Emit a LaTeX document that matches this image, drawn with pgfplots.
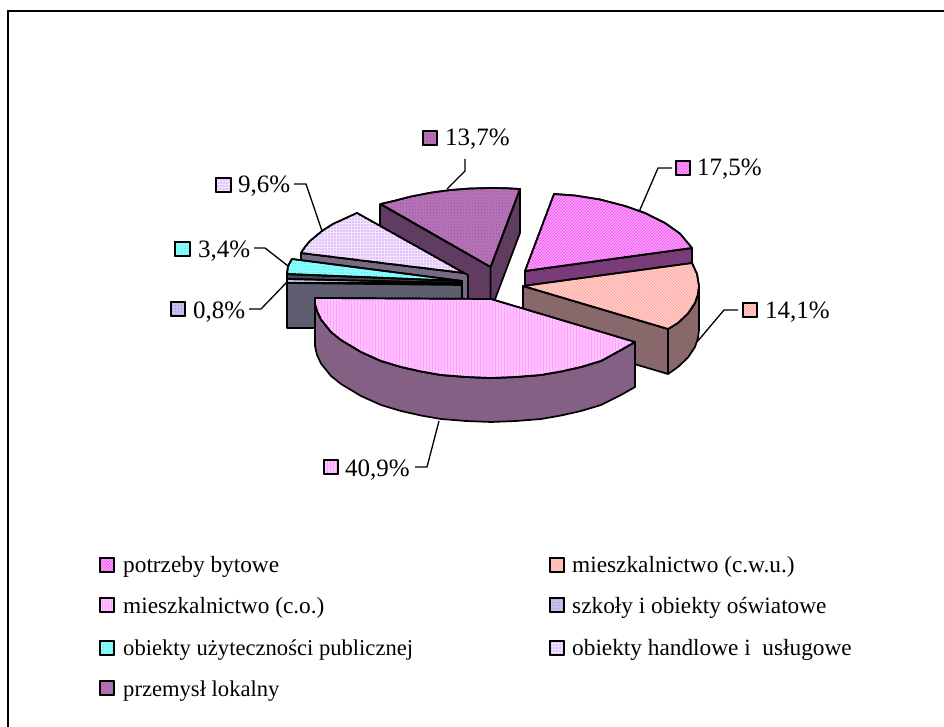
\documentclass[border=0pt]{standalone}
\usepackage{pgfplots}
\pgfplotsset{compat=1.18}
\usepackage{fontspec}
\setmainfont{Liberation Serif}
\usetikzlibrary{patterns}
\definecolor{mgT}{HTML}{FFA0FF}\definecolor{mgL}{HTML}{E850E8}\definecolor{mgS}{HTML}{7A3C78}
\definecolor{saT}{HTML}{FFD0C8}\definecolor{saL}{HTML}{FFA0A0}\definecolor{saS}{HTML}{88686A}
\definecolor{piT}{HTML}{FFC4FF}\definecolor{piL}{HTML}{FFA0FF}\definecolor{piS}{HTML}{846084}
\definecolor{slT}{HTML}{C8C8F0}\definecolor{slL}{HTML}{8888C8}\definecolor{slS}{HTML}{5E5E70}
\definecolor{cyT}{HTML}{90FFFF}\definecolor{cyL}{HTML}{40E0E8}\definecolor{cyS}{HTML}{404848}
\definecolor{laT}{HTML}{E2C4F8}\definecolor{laL}{HTML}{F2E4FF}\definecolor{laS}{HTML}{786A80}
\definecolor{puT}{HTML}{B874B8}\definecolor{puL}{HTML}{985498}\definecolor{puS}{HTML}{603C60}
\pgfplotsset{
 face/.style n args={3}{draw=black,line width=1.7pt,fill=#1,line join=round,
   postaction={pattern=#3,pattern color=#2}},
 mg/.style={face={mgT}{mgL}{north east lines}},
 sa/.style={face={saT}{saL}{north west lines}},
 pi/.style={face={piT}{piL}{vertical lines}},
 sl/.style={face={slT}{slL}{crosshatch dots}},
 cy/.style={face={cyT}{cyL}{crosshatch dots}},
 la/.style={face={laT}{laL}{grid}},
 pu/.style={face={puT}{puL}{crosshatch dots}},
 side/.style={draw=black,line width=1.7pt,fill=#1,line join=round},
 leader/.style={draw=black,line width=1.3pt,no marks},
 sw/.style={line width=1.5pt},
}
\newcommand{\txt}[3]{\node[anchor=west,inner sep=0pt,font=\fontsize{#3}{#3}\selectfont] at (axis cs:#1) {\strut #2};}
\begin{document}
\begin{tikzpicture}
\path[use as bounding box] (0,0) rectangle (944pt,727pt);
\begin{axis}[at={(0,0)},anchor=south west,x=1pt,y=-1pt,xmin=0,xmax=944,ymin=0,ymax=727,hide axis,clip=false,scale only axis]
% frame
\addplot[draw=black,line width=2pt,no marks] coordinates {(7.5,727) (7.5,11) (944,11)};
% purple 13,7
\addplot[side=puS] coordinates {(380,204) (490.6,267) (490.6,311) (380,248)} --cycle;
\addplot[side=puS] coordinates {(490.6,267) (520,189) (520,233) (490.6,311)} --cycle;
\addplot[pu] coordinates {(380.6,204) (395.6,200.5) (410.6,196.6) (430.6,192.7) (450.6,190) (470.6,188.5) (490.6,188) (505.6,188.2) (520,189) (490.6,267)} --cycle;
% lavender 9,6
\addplot[side=laS] coordinates {(301,253) (464,273) (468,275) (468,319) (301,297)} --cycle;
\addplot[la] coordinates {(301,253) (305,247) (310,241) (316,236) (322,231) (333,224) (345,218.5) (357,213) (464,273)} --cycle;
% cyan 3,4
\addplot[side=cyS] coordinates {(287,274) (462,281) (462,290) (287,283)} --cycle;
\addplot[cy] coordinates {(292,259) (288,266) (287,274) (462,281)} --cycle;
% slate 0,8
\addplot[side=slS] coordinates {(287,283) (462,285) (462,328) (287,328)} --cycle;
\addplot[sl] coordinates {(287,279) (462,283) (287,283)} --cycle;
% magenta 17,5
\addplot[side=mgS] coordinates {(525,271) (692,248) (692,292) (525,315)} --cycle;
\addplot[mg] coordinates {(525,271) (554,194) (575,195.5) (600,199.5) (625,206) (645,213) (665,223) (680,233.6) (692,248)} --cycle;
% salmon 14,1
\addplot[side=saS] coordinates {(523,286) (668,329) (668,374) (523,331)} --cycle;
\addplot[side=saS] coordinates {(668,329) (678,323) (688,313.5) (695,303) (698,294) (699,286) (699,330) (698,338) (695,347) (688,357.5) (678,367) (668,374)} --cycle;
\addplot[sa] coordinates {(523,286) (692,263) (697,274) (699,286) (698,294) (695,303) (688,313.5) (678,323) (668,329)} --cycle;
% pink 40,9
\addplot[side=piS] coordinates {(315,302) (317,311) (321,319.5) (331,332) (341,340) (361,352) (381,361) (401,367) (421,371.5) (441,375) (466,377) (491,378) (516,377) (541,375) (561,371.5) (581,367) (601,361) (621,350) (635,342) (635,387) (621,395) (601,405) (581,411) (561,415.5) (541,419) (516,421) (491,422) (466,421) (441,419) (421,415.5) (401,411) (381,405) (361,396) (341,384) (331,376) (321,363.5) (317,355) (315,346)} --cycle;
\addplot[pi] coordinates {(315,298) (491,299) (635,342) (621,350) (601,361) (581,367) (561,371.5) (541,375) (516,377) (491,378) (466,377) (441,375) (421,371.5) (401,367) (381,361) (361,352) (341,340) (331,332) (321,319.5) (317,311) (315,304)} --cycle;
% leaders
\addplot[leader] coordinates {(415,467) (427,467) (439,421)};
\addplot[leader] coordinates {(465,159) (465,171) (447,189)};
\addplot[leader] coordinates {(672,168) (658,168) (639,212)};
\addplot[leader] coordinates {(738,310) (724,310) (697,342)};
\addplot[leader] coordinates {(294,184) (306,184) (322,231)};
\addplot[leader] coordinates {(254,248) (265,248) (288,266)};
\addplot[leader] coordinates {(249,309) (261,309) (287,282)};
% label swatches
\addplot[pi,sw] coordinates {(324,460) (338,460) (338,474) (324,474)} --cycle;
\addplot[pu,sw] coordinates {(423,131) (437,131) (437,145) (423,145)} --cycle;
\addplot[mg,sw] coordinates {(676,161) (690,161) (690,175) (676,175)} --cycle;
\addplot[sa,sw] coordinates {(743,303) (757,303) (757,317) (743,317)} --cycle;
\addplot[la,sw] coordinates {(216,178) (231,178) (231,192) (216,192)} --cycle;
\addplot[cy,sw] coordinates {(175,242) (190,242) (190,256) (175,256)} --cycle;
\addplot[sl,sw] coordinates {(171,302) (185,302) (185,316) (171,316)} --cycle;
% legend swatches
\addplot[mg,sw] coordinates {(100,558) (114,558) (114,572) (100,572)} --cycle;
\addplot[pi,sw] coordinates {(100,598) (114,598) (114,612) (100,612)} --cycle;
\addplot[cy,sw] coordinates {(100,641) (114,641) (114,655) (100,655)} --cycle;
\addplot[pu,sw] coordinates {(100,681) (114,681) (114,695) (100,695)} --cycle;
\addplot[sa,sw] coordinates {(550,558) (564,558) (564,572) (550,572)} --cycle;
\addplot[sl,sw] coordinates {(550,598) (564,598) (564,612) (550,612)} --cycle;
\addplot[la,sw] coordinates {(550,641) (564,641) (564,655) (550,655)} --cycle;
% texts
\txt{345,471}{40,9\%}{25}
\txt{445,141}{13,7\%}{25}
\txt{697,171}{17,5\%}{25}
\txt{765,313}{14,1\%}{25}
\txt{238,188}{9,6\%}{25}
\txt{198,252}{3,4\%}{25}
\txt{193,313}{0,8\%}{25}
\txt{123,568}{potrzeby bytowe}{23.3}
\txt{123,609}{mieszkalnictwo (c.o.)}{23.3}
\txt{123,651}{obiekty użyteczności publicznej}{22.6}
\txt{123,692}{przemysł lokalny}{22.6}
\txt{572,568}{mieszkalnictwo (c.w.u.)}{23.3}
\txt{572,609}{szkoły i obiekty oświatowe}{23.3}
\txt{572,651}{obiekty handlowe i~ usługowe}{23.3}
\end{axis}
\end{tikzpicture}
\end{document}
